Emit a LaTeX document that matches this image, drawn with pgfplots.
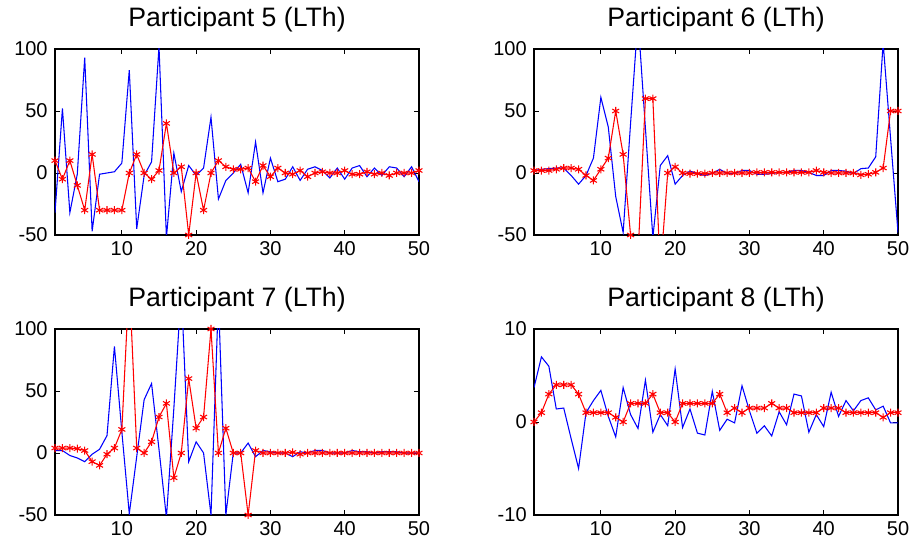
\documentclass[border=0pt]{standalone}
\usepackage{fontspec}
\setmainfont{Liberation Sans}
\usepackage{pgfplots}
\usepackage{pgfplotstable}
\pgfplotsset{compat=1.18}

% n = sample index; b = blue series, r = red series, per participant
\pgfplotstableread{
n  b5   r5   b6    r6    b7   r7    b8    r8
1  -32  10   2     2     2    4     3.7   0
2  52   -5   3     2     2    4     7     1
3  -32  10   3.5   2     -2   4     6     3
4  -1   -10  4     3     -4   3.5   1.4   4
5  93   -30  4     4     -7   2     1.5   4
6  -47  15   -2    4     -1   -7    -1.8  4
7  -1   -30  -9    3     3    -10   -5    3
8  0    -30  -2    -2    14   -1    1     1
9  1    -30  12    -6    86   4     2.3   1
10 8    -30  61    3     17   19    3.4   1
11 83   0    37    12    -49  140   0.6   1
12 -45  15   -19   50    -3   4     -1.6  0.5
13 -2   0    -48   15    43   0     3.7   0
14 9    -5   40    -50   56   9     0.8   2
15 102  2    125   -66   3    29    -0.7  2
16 -52  40   36    60    -52  40    4.5   2
17 16   0    -52   60    36   -20   -1.1  3
18 -15  5    6     -80   132  0     0.8   1
19 6    -50  14    0     -7   60    -0.4  1
20 -2   0    -9    5     9    20    5.7   0
21 4    -30  -2    0     0    29    -0.6  2
22 45   0    1.5   -0.5  -50  100   1.4   2
23 -21  10   -0.5  -0.5  125  0     -1.2  2
24 -6   5    -2    -0.5  -50  20    -1.4  2
25 0    3    -0.5  0     0    0     3.3   2
26 7    3    3     0     0    0     -0.9  3
27 -16  4    -0.5  0     8    -50   0.3   1
28 25   -7   -0.5  0     -3   2     -0.1  1.5
29 -16  6    2     0     2    0     3.9   1
30 12   -3   2     0     1    0     1.2   1.5
31 -7   4    -1    0.5   0    0     -1.2  1.5
32 -5   0    -1    0.5   0    0     -0.4  1.5
33 5    -1   -0.5  0.5   -3   0.5   -1.5  2
34 -6   2    0.5   0.5   1    -1    1.1   1.5
35 3    -3   0.5   0.5   0    0     -0.3  1.5
36 5    0    2     0.5   2    0     3     1
37 2    1    2     0.5   2    0     2.8   1
38 -4   0    0.5   0.5   0    0     -1.1  1
39 4    0    -2    2     0    0     0.8   1
40 -5   2    -2    0.5   0    0     -0.5  1.5
41 4    -1   2     0     2    0     3.2   1.5
42 6    -1   2     0     1    0     0.6   1.5
43 -3   1    1.5   0     1    0     2.3   1
44 4    -1   -0.5  0     0    0     1.2   1
45 -2   0    3.5   -1.5  1    0     2.3   1
46 5    -2   4     -1    1    0     2.6   1
47 4    0    13    0.5   1    0     1.3   1
48 -3   0    105   4     0    0     1.7   0.5
49 5    0    28    50    0    0     -0.1  1
50 -7   2    -48   50    0    0     -0.1  1
}\data

\pgfplotsset{
  panel/.style={
    scale only axis, width=273pt, height=139.5pt,
    xmin=1, xmax=50, xtick={10,20,30,40,50},
    ymin=-50, ymax=100, ytick={-50,0,50,100},
    tick align=inside, xtick pos=both, ytick pos=both,
    axis line style={black, line width=0.8pt},
    every tick/.style={black, line width=0.6pt},
    major tick length=4pt,
    ticklabel style={font=\fontsize{15}{15}\selectfont},
    /pgf/number format/assume math mode=true,
    xticklabel style={yshift=-1.5pt},
    yticklabel style={xshift=-2pt},
    title style={font=\fontsize{20}{20}\selectfont, yshift=3pt},
  },
  bl/.style={blue, line width=0.8pt, no marks},
  rd/.style={red, line width=0.8pt, mark=asterisk, mark size=3pt},
}

\begin{document}
\begin{tikzpicture}
\begin{axis}[panel, at={(0pt,210pt)}, title={Participant 5 (LTh)}]
\addplot[bl] table[x=n, y=b5] {\data};
\addplot[rd] table[x=n, y=r5] {\data};
\end{axis}
\begin{axis}[panel, at={(359.25pt,210pt)}, title={Participant 6 (LTh)}]
\addplot[bl] table[x=n, y=b6] {\data};
\addplot[rd] table[x=n, y=r6] {\data};
\end{axis}
\begin{axis}[panel, at={(0pt,0pt)}, title={Participant 7 (LTh)}]
\addplot[bl] table[x=n, y=b7] {\data};
\addplot[rd] table[x=n, y=r7] {\data};
\end{axis}
\begin{axis}[panel, at={(359.25pt,0pt)}, title={Participant 8 (LTh)},
  ymin=-10, ymax=10, ytick={-10,0,10}]
\addplot[bl] table[x=n, y=b8] {\data};
\addplot[rd] table[x=n, y=r8] {\data};
\end{axis}
\pgfresetboundingbox
\path[use as bounding box] (-41.25pt,-19.5pt) rectangle (640.5pt,386.25pt);
\end{tikzpicture}
\end{document}
